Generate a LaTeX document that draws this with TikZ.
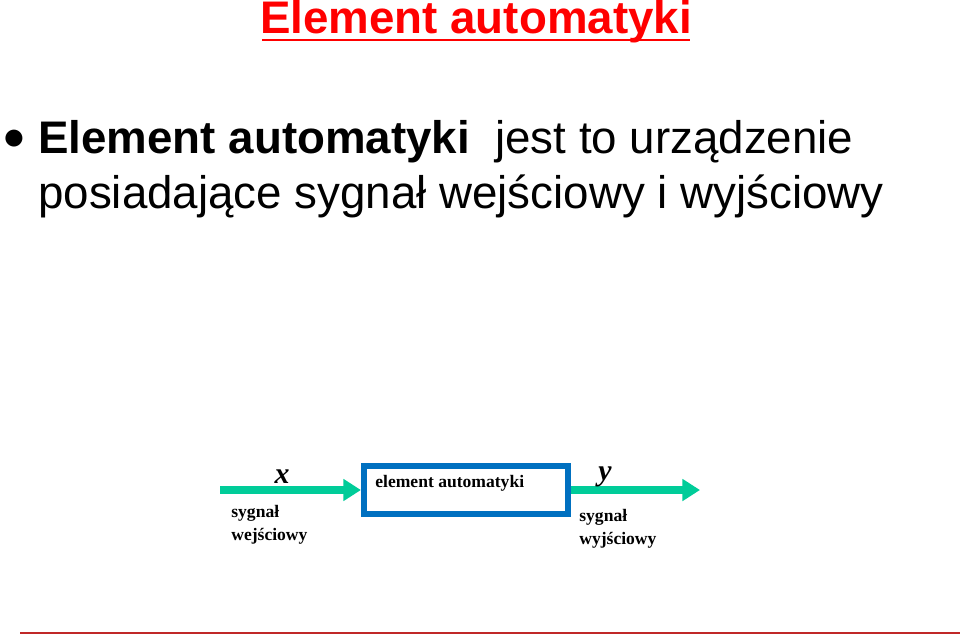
\documentclass[tikz,border=0pt]{standalone}
\usepackage{fontspec}
\setmainfont{Liberation Serif}
\newfontfamily\arial{Liberation Sans}
\usetikzlibrary{positioning,arrows.meta}
\definecolor{sigcol}{RGB}{0,204,153}
\definecolor{boxcol}{RGB}{0,112,192}
\definecolor{linecol}{RGB}{192,40,40}
\tikzset{
  sig/.style={line width=4pt,draw=sigcol,-{Triangle[length=10pt,width=12pt]}},
  lbl/.style={font=\bfseries\fontsize{10}{11}\selectfont,align=left,inner sep=0pt},
  var/.style={font=\bfseries\itshape\fontsize{17}{18}\selectfont,inner sep=0pt},
  big/.style={font=\arial\fontsize{26}{30}\selectfont,inner sep=0pt}
}
\begin{document}
\begin{tikzpicture}[x=0.02cm,y=-0.02cm]
	\useasboundingbox (0,0) rectangle (960,637);
	\node[big,font=\arial\bfseries\fontsize{26}{30}\selectfont,text=red,anchor=base] (title) at (476,33) {Element automatyki};
	\draw[red,line width=1.5pt] (262,40) -- (690,40);
	\node[big,anchor=center] (bul) at (14,140) {$\bullet$};
	\node[big,anchor=base west] (line1) at (38,153) {\textbf{Element automatyki}\ \ jest to urządzenie};
	\node[big,anchor=base west] (line2) at (38,208) {posiadające sygnał wejściowy i wyjściowy};

	\node[draw=boxcol,line width=3.5pt,inner sep=0pt,
		minimum width=4.08cm,minimum height=0.96cm] (box) at (466,490) {};
	\node[lbl,anchor=west] (boxtxt) at (375,483) {element automatyki};
	\coordinate (in) at (220,490);
	\coordinate (out) at (700,490);
	\draw[sig] (in) -- (box.west);
	\draw[sig] (box.east) -- (out);
	\node[var] (x) at (282,477) {x};
	\node[var] (y) at (605,477) {y};
	\node[lbl,anchor=north west] (inlbl) at (231,505) {sygnał\\[2pt]wejściowy};
	\node[lbl,anchor=north west] (outlbl) at (579,509) {sygnał\\[2pt]wyjściowy};
	\draw[linecol,line width=1pt] (20,633) -- (960,633);
\end{tikzpicture}
\end{document}
